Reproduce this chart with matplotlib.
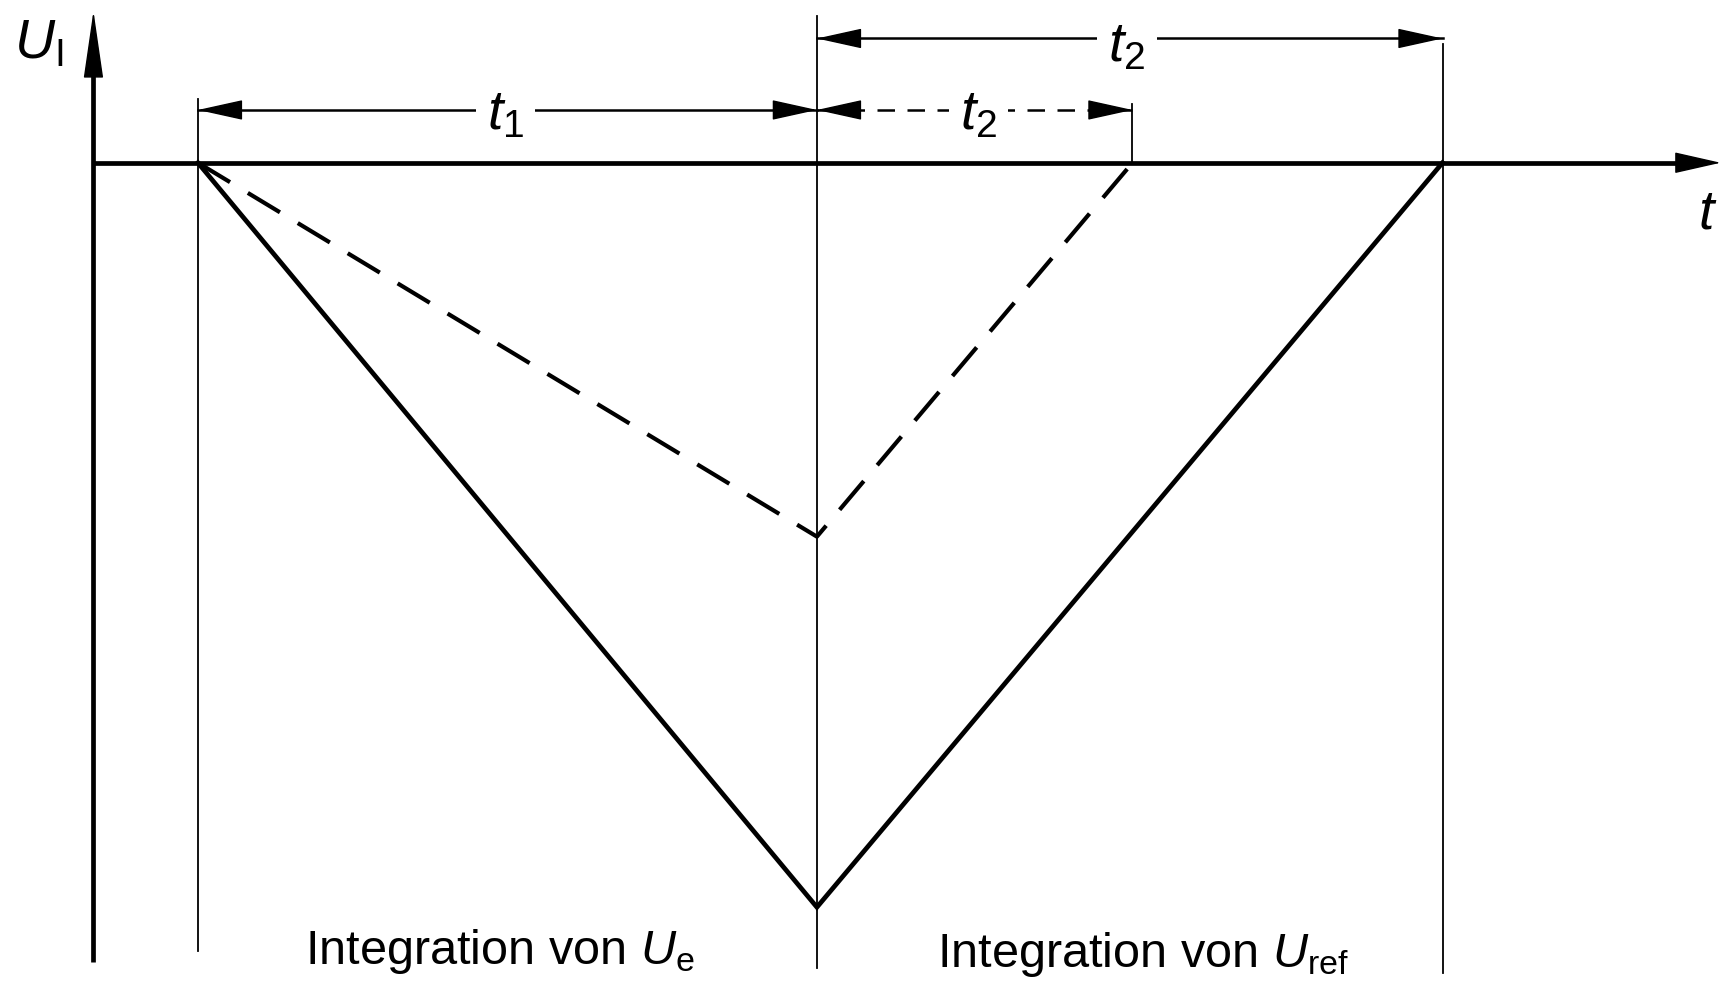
import matplotlib
matplotlib.use("Agg")
import matplotlib.pyplot as plt
from matplotlib import font_manager

# ---- data (time units / voltage units) ----
t_start = 0.95          # start of integration
t_switch = 6.58         # end of t1 (switch to U_ref)
t_end_dashed = 9.45     # zero crossing, smaller input
t_end_solid = 12.27     # zero crossing, larger input
u_min_solid = -6.77
u_min_dashed = -3.40

solid_t = [t_start, t_switch, t_end_solid]
solid_u = [0.0, u_min_solid, 0.0]
dashed_t = [t_start, t_switch, t_end_dashed]
dashed_u = [0.0, u_min_dashed, 0.0]

axis_t_max = 14.80
axis_u_max = 1.38
axis_u_min = -7.27

labels_bottom = ["Integration von $U_\\mathrm{e}$", "Integration von $U_\\mathrm{ref}$"]

# ---- fonts ----
names = {f.name for f in font_manager.fontManager.ttflist}
fam = 'DejaVu Sans'
for cand in ["Liberation Sans Narrow", "DejaVu Sans Condensed", "Liberation Sans"]:
    if cand in names:
        fam = cand
        break
plt.rcParams['font.family'] = [fam, 'DejaVu Sans']
plt.rcParams['mathtext.fontset'] = 'custom'
plt.rcParams['mathtext.rm'] = fam
plt.rcParams['mathtext.it'] = fam + ':italic'

fig = plt.figure(figsize=(17.24, 9.93), dpi=100)
ax = fig.add_axes([0, 0, 1, 1])
ax.set_xlim(-0.85, 14.83)
ax.set_ylim(-7.55, 1.48)
ax.axis('off')

K = 'black'
thick = 3.4
thin = 1.3

def head(x_tip, y, direction, length=0.36, mscale=20):
    ax.annotate('', xy=(x_tip, y), xytext=(x_tip - direction * length, y),
                arrowprops=dict(arrowstyle='-|>,head_length=1.45,head_width=0.32',
                                mutation_scale=mscale, lw=1.0, color=K,
                                shrinkA=0, shrinkB=0))

# axes
ax.plot([0, axis_t_max - 0.3], [0, 0], color=K, lw=thick, solid_capstyle='butt')
ax.annotate('', xy=(axis_t_max, 0), xytext=(axis_t_max - 0.4, 0),
            arrowprops=dict(arrowstyle='-|>,head_length=1.5,head_width=0.34',
                            mutation_scale=20, lw=1.0, color=K, shrinkA=0, shrinkB=0))
ax.plot([0, 0], [axis_u_min, axis_u_max - 0.3], color=K, lw=thick, solid_capstyle='butt')
ax.annotate('', xy=(0, axis_u_max), xytext=(0, axis_u_max - 0.4),
            arrowprops=dict(arrowstyle='-|>,head_length=2.2,head_width=0.32',
                            mutation_scale=20, lw=1.0, color=K, shrinkA=0, shrinkB=0))

# vertical guide lines
ax.plot([t_start, t_start], [-7.17, 0.58], color=K, lw=thin)
ax.plot([t_switch, t_switch], [-7.32, 1.33], color=K, lw=thin)
ax.plot([t_end_solid, t_end_solid], [-7.37, 1.08], color=K, lw=thin)
ax.plot([t_end_dashed, t_end_dashed], [0, 0.53], color=K, lw=thin)

# integrator curves
ax.plot(solid_t, solid_u, color=K, lw=3.4, solid_joinstyle='miter')
ax.plot(dashed_t, dashed_u, color=K, lw=3.0, dashes=(9, 5))

# dimension arrows
y1 = 0.48
y_top = 1.13
ax.plot([t_start, t_switch], [y1, y1], color=K, lw=1.8)
head(t_start, y1, -1)
head(t_switch, y1, 1)
ax.plot([t_switch, t_end_dashed], [y1, y1], color=K, lw=1.8, dashes=(7, 5))
head(t_switch, y1, -1)
head(t_end_dashed, y1, 1)
ax.plot([t_switch, t_end_solid], [y_top, y_top], color=K, lw=1.8)
head(t_switch, y_top, -1)
head(t_end_solid, y_top, 1)

bb = dict(facecolor='white', edgecolor='none', pad=8)
ax.text(3.75, 0.43, '$t_1$', fontsize=40, ha='center', va='center', bbox=bb)
ax.text(8.05, 0.43, '$t_2$', fontsize=40, ha='center', va='center', bbox=bb)
ax.text(9.40, 1.05, '$t_2$', fontsize=40, ha='center', va='center', bbox=bb)

ax.text(-0.50, 1.08, '$U_\\mathrm{I}$', fontsize=40, ha='center', va='center')
ax.text(14.68, -0.47, '$t$', fontsize=40, ha='center', va='center')

ax.text(3.70, -7.17, labels_bottom[0], fontsize=35, ha='center', va='center')
ax.text(9.55, -7.20, labels_bottom[1], fontsize=35, ha='center', va='center')

fig.savefig('out.png', dpi=100, facecolor='white')
